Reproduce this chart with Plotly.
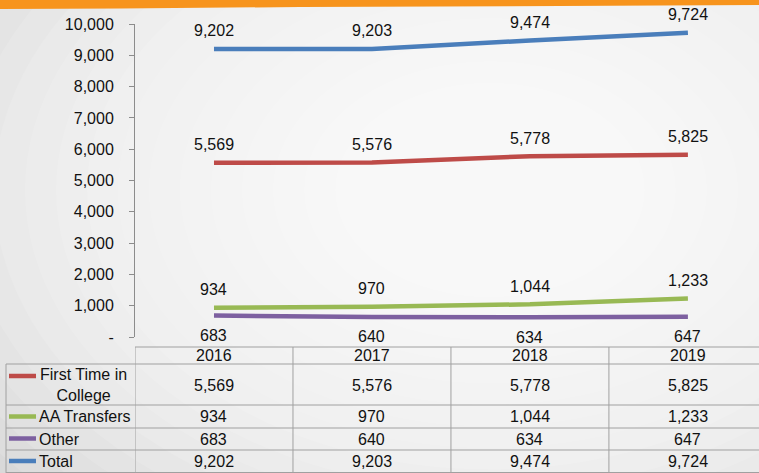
import plotly.graph_objects as go

# ---------------- data ----------------
years = ["2016", "2017", "2018", "2019"]
series_names = ["First Time in College", "AA Transfers", "Other", "Total"]
row_labels = ["First Time in<br>College", "AA Transfers", "Other", "Total"]
ftic = [5569, 5576, 5778, 5825]
aa_transfers = [934, 970, 1044, 1233]
other = [683, 640, 634, 647]
total = [9202, 9203, 9474, 9724]
y_tick_vals = [0, 1000, 2000, 3000, 4000, 5000, 6000, 7000, 8000, 9000, 10000]
y_tick_text = ["-", "1,000", "2,000", "3,000", "4,000", "5,000", "6,000",
               "7,000", "8,000", "9,000", "10,000"]

series = [ftic, aa_transfers, other, total]
colors = ["#BE4B48", "#98B954", "#7D60A0", "#4A7EBB"]
label_shift = [18, 18, -20, 18]

# ---------------- geometry helpers ----------------
W, H = 759, 473
ML, MR, MT, MB = 135, 0, 24, 136
PW, PH = W - ML - MR, H - MT - MB


def py(p):  # pixel y -> paper y
    return (H - MB - p) / PH


def px(p):  # pixel x -> paper x
    return (p - ML) / PW


FONT = "Liberation Sans, Arial, sans-serif"
TXT = dict(size=16, color="#111", family=FONT)
xs = list(range(len(years)))

fig = go.Figure()
for name, vals, col in zip(series_names, series, colors):
    fig.add_trace(go.Scatter(x=xs, y=vals, mode="lines", name=name,
                             line=dict(color=col, width=4.5),
                             hoverinfo="skip", showlegend=False))

annotations = []
# data labels
for vals, sh in zip(series, label_shift):
    for i, v in enumerate(vals):
        annotations.append(dict(x=i, y=v, xref="x", yref="y", text=f"{v:,}",
                                showarrow=False, yshift=sh, xanchor="center",
                                yanchor="middle", font=TXT))

# table header (years)
for i, yr in enumerate(years):
    annotations.append(dict(x=i, y=py(355.5), xref="x", yref="paper", text=yr,
                            showarrow=False, xanchor="center", yanchor="middle", font=TXT))

row_centers = [385, 416.5, 439, 461.5]
key_y = [376, 416.5, 438.5, 461]
for r, (vals, lab, col) in enumerate(zip(series, row_labels, colors)):
    for i, v in enumerate(vals):
        annotations.append(dict(x=i, y=py(row_centers[r]), xref="x", yref="paper",
                                text=f"{v:,}", showarrow=False, xanchor="center",
                                yanchor="middle", font=TXT))
    if "<br>" in lab:
        annotations.append(dict(x=px(83), y=py(row_centers[r]), xref="paper", yref="paper",
                                text=lab, showarrow=False, align="center",
                                xanchor="center", yanchor="middle", font=TXT))
    else:
        annotations.append(dict(x=px(37), y=py(row_centers[r]), xref="paper", yref="paper",
                                text=lab, showarrow=False, xanchor="left",
                                yanchor="middle", font=TXT))

shapes = []
# radial-ish background gradient
N = 20
cx, cy = 490, 190
for k in range(N):
    f = 1 - k / N
    rx, ry = 620 * f, 430 * f
    shapes.append(dict(type="circle", xref="paper", yref="paper", layer="below",
                       x0=px(cx - rx), x1=px(cx + rx), y0=py(cy + ry), y1=py(cy - ry),
                       fillcolor="rgba(255,255,255,0.12)", line=dict(width=0)))

# orange brush stroke at the top
shapes.append(dict(type="path", xref="paper", yref="paper", layer="above",
                   path=("M {0},{1} L {2},{1} L {2},{3} L {4},{5} L {6},{7} L {8},{9} L {10},{11} Z").format(
                       px(0), py(0), px(759), py(5), px(560), py(6), px(300), py(7),
                       px(120), py(8.5), px(0), py(9)),
                   fillcolor="#F7941D", line=dict(width=0)))

# table grid
gc = "#A0A0A0"
for yy in [364, 405, 428, 450, 472.5]:
    shapes.append(dict(type="line", xref="paper", yref="paper", x0=px(6), x1=px(759),
                       y0=py(yy), y1=py(yy), line=dict(color=gc, width=1)))
shapes.append(dict(type="line", xref="paper", yref="paper", x0=px(135), x1=px(759),
                   y0=py(347), y1=py(347), line=dict(color=gc, width=1)))
shapes.append(dict(type="line", xref="paper", yref="paper", x0=px(6), x1=px(6),
                   y0=py(364), y1=py(473), line=dict(color=gc, width=1)))
for b in [-0.5, 0.5, 1.5, 2.5]:
    shapes.append(dict(type="line", xref="x", yref="paper", x0=b, x1=b,
                       y0=py(347), y1=py(473), line=dict(color=gc, width=1)))

# legend keys
for ky, col in zip(key_y, colors):
    shapes.append(dict(type="line", xref="paper", yref="paper", x0=px(9), x1=px(36),
                       y0=py(ky), y1=py(ky), line=dict(color=col, width=4.5)))

fig.update_layout(
    width=W, height=H,
    margin=dict(l=ML, r=MR, t=MT, b=MB, pad=0),
    paper_bgcolor="#D9D9D9",
    plot_bgcolor="rgba(0,0,0,0)",
    font=TXT,
    xaxis=dict(range=[-0.5, 3.45], showticklabels=False, showgrid=False,
               zeroline=False, showline=False, ticks=""),
    yaxis=dict(range=[0, 10000], tickvals=y_tick_vals, ticktext=y_tick_text,
               showgrid=False, zeroline=False, showline=True, linecolor="#8C8C8C",
               linewidth=1, ticks="outside", ticklen=5, tickcolor="#8C8C8C",
               ticklabelstandoff=12, tickfont=TXT),
    annotations=annotations,
    shapes=shapes,
)

fig.write_html("out.html", config={"displayModeBar": False},
               post_script="document.body.style.margin='0';document.body.style.overflow='hidden';")
